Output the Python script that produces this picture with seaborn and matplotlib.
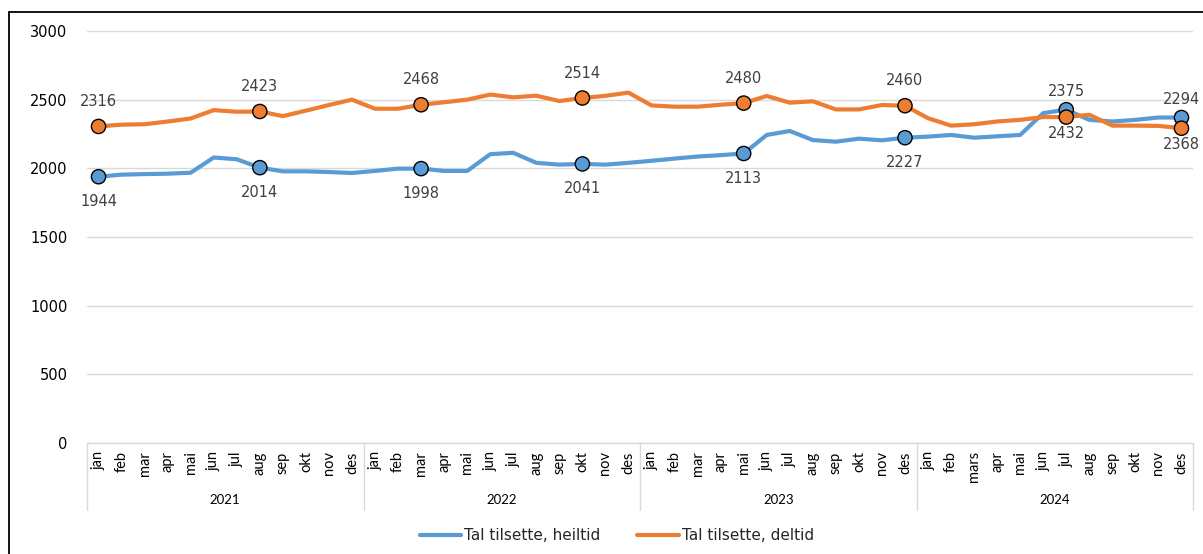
import numpy as np
import pandas as pd
import matplotlib
matplotlib.use("Agg")
import matplotlib.pyplot as plt
import seaborn as sns
from matplotlib.lines import Line2D
import matplotlib.transforms as mtransforms

# ---------------- data ----------------
YEARS = ["2021", "2022", "2023", "2024"]
MONTHS_2021 = ["jan", "feb", "mar", "apr", "mai", "jun", "jul", "aug", "sep", "okt", "nov", "des"]
MONTHS_2022 = ["jan", "feb", "mar", "apr", "mai", "jun", "jul", "aug", "sep", "okt", "nov", "des"]
MONTHS_2023 = ["jan", "feb", "mar", "apr", "mai", "jun", "jul", "aug", "sep", "okt", "nov", "des"]
MONTHS_2024 = ["jan", "feb", "mars", "apr", "mai", "jun", "jul", "aug", "sep", "okt", "nov", "des"]

HEILTID = [1939, 1954, 1958, 1961, 1968, 2079, 2066, 2005, 1978, 1978, 1973, 1966,
           1981, 1998, 1998, 1981, 1981, 2103, 2113, 2040, 2027, 2032, 2027, 2040,
           2055, 2071, 2086, 2096, 2108, 2243, 2272, 2206, 2194, 2216, 2204, 2223,
           2231, 2243, 2223, 2233, 2243, 2402, 2427, 2353, 2341, 2353, 2370, 2370]
DELTID = [2305, 2318, 2321, 2341, 2363, 2424, 2412, 2414, 2380, 2420, 2461, 2500,
          2434, 2434, 2463, 2481, 2500, 2537, 2517, 2529, 2490, 2512, 2528, 2551,
          2458, 2449, 2449, 2463, 2475, 2527, 2478, 2488, 2429, 2429, 2461, 2456,
          2365, 2311, 2321, 2341, 2353, 2373, 2373, 2390, 2311, 2311, 2309, 2292]

MARK_IDX = [0, 7, 14, 21, 28, 35, 42, 47]
HEILTID_LABELS = ["1944", "2014", "1998", "2041", "2113", "2227", "2375", "2294"]
DELTID_LABELS = ["2316", "2423", "2468", "2514", "2480", "2460", "2432", "2368"]

SERIES_HEIL = "Tal tilsette, heiltid"
SERIES_DEL = "Tal tilsette, deltid"

months_all = MONTHS_2021 + MONTHS_2022 + MONTHS_2023 + MONTHS_2024
n = len(months_all)
df = pd.DataFrame({
    "idx": list(range(n)) * 2,
    "value": HEILTID + DELTID,
    "serie": [SERIES_HEIL] * n + [SERIES_DEL] * n,
})
marks = df[df["idx"].isin(MARK_IDX)]

BLUE = "#5B9BD5"
ORANGE = "#ED7D31"
palette = {SERIES_HEIL: BLUE, SERIES_DEL: ORANGE}

# ---------------- figure ----------------
sns.set_theme(style="white")
plt.rcParams["font.family"] = ["DejaVu Sans"]

W, H = 1203, 554
fig = plt.figure(figsize=(W / 100, H / 100), dpi=100)
ax = fig.add_axes([87 / W, 1 - 443 / H, (1193 - 87) / W, (443 - 31) / H])

sns.lineplot(data=df, x="idx", y="value", hue="serie", palette=palette,
             linewidth=3.0, ax=ax, legend=True, zorder=3)
sns.scatterplot(data=marks, x="idx", y="value", hue="serie", palette=palette,
                s=105, edgecolor="black", linewidth=1.0, ax=ax, legend=False, zorder=4)

ax.set_xlim(-0.5, n - 0.5)
ax.set_ylim(0, 3000)
ax.set_yticks([0, 500, 1000, 1500, 2000, 2500, 3000])
ax.yaxis.grid(True, color="#d9d9d9", linewidth=1.0)
ax.xaxis.grid(False)
for s in ["top", "right", "left"]:
    ax.spines[s].set_visible(False)
ax.spines["bottom"].set_color("#d9d9d9")
ax.spines["bottom"].set_linewidth(1.0)
ax.tick_params(axis="y", length=0, pad=14, labelsize=10.5, labelcolor="black")
ax.set_xlabel("")
ax.set_ylabel("")

ax.set_xticks(range(n))
ax.set_xticklabels(months_all, rotation=90, fontsize=10.5, color="black", family="Lato")
ax.tick_params(axis="x", length=0, pad=6)

# year group labels and dividers
trans = mtransforms.blended_transform_factory(ax.transData, fig.transFigure)
y_top = 1 - 443 / H
y_bot = 1 - 510 / H
for k in range(len(YEARS) + 1):
    xb = k * 12 - 0.5
    ax.add_line(Line2D([xb, xb], [y_top, y_bot], transform=trans, color="#d9d9d9",
                       linewidth=1.0, clip_on=False))
for k, yr in enumerate(YEARS):
    ax.text(k * 12 + 5.5, 1 - 500 / H, yr, transform=trans, ha="center", va="center",
            fontsize=9.5, color="black", family="Lato")

# data labels
for j, i in enumerate(MARK_IDX):
    if i < 40:
        ax.annotate(DELTID_LABELS[j], (i, DELTID[i]), xytext=(0, 18), textcoords="offset points",
                    ha="center", va="center", fontsize=10.5, color="#404040")
        ax.annotate(HEILTID_LABELS[j], (i, HEILTID[i]), xytext=(0, -18), textcoords="offset points",
                    ha="center", va="center", fontsize=10.5, color="#404040")
    else:
        ax.annotate(HEILTID_LABELS[j], (i, HEILTID[i]), xytext=(0, 13), textcoords="offset points",
                    ha="center", va="center", fontsize=10.5, color="#404040")
        ax.annotate(DELTID_LABELS[j], (i, DELTID[i]), xytext=(0, -12), textcoords="offset points",
                    ha="center", va="center", fontsize=10.5, color="#404040")

# legend
handles, labels = ax.get_legend_handles_labels()
ax.legend_.remove()
fig.legend(handles, labels, loc="center", bbox_to_anchor=(617 / W, 1 - 536 / H), ncol=2,
           frameon=False, handlelength=2.7, handletextpad=0.2, columnspacing=2.4,
           prop={"family": "DejaVu Sans", "size": 11})
for h in fig.legends[0].get_lines():
    h.set_linewidth(3.0)

# outer border (top and left)
fig.add_artist(Line2D([9 / W, 1.0], [1 - 12 / H, 1 - 12 / H], transform=fig.transFigure,
                      color="black", linewidth=1.3))
fig.add_artist(Line2D([9 / W, 9 / W], [1 - 12 / H, 0.0], transform=fig.transFigure,
                      color="black", linewidth=1.3))

fig.savefig("out.png", dpi=100)
